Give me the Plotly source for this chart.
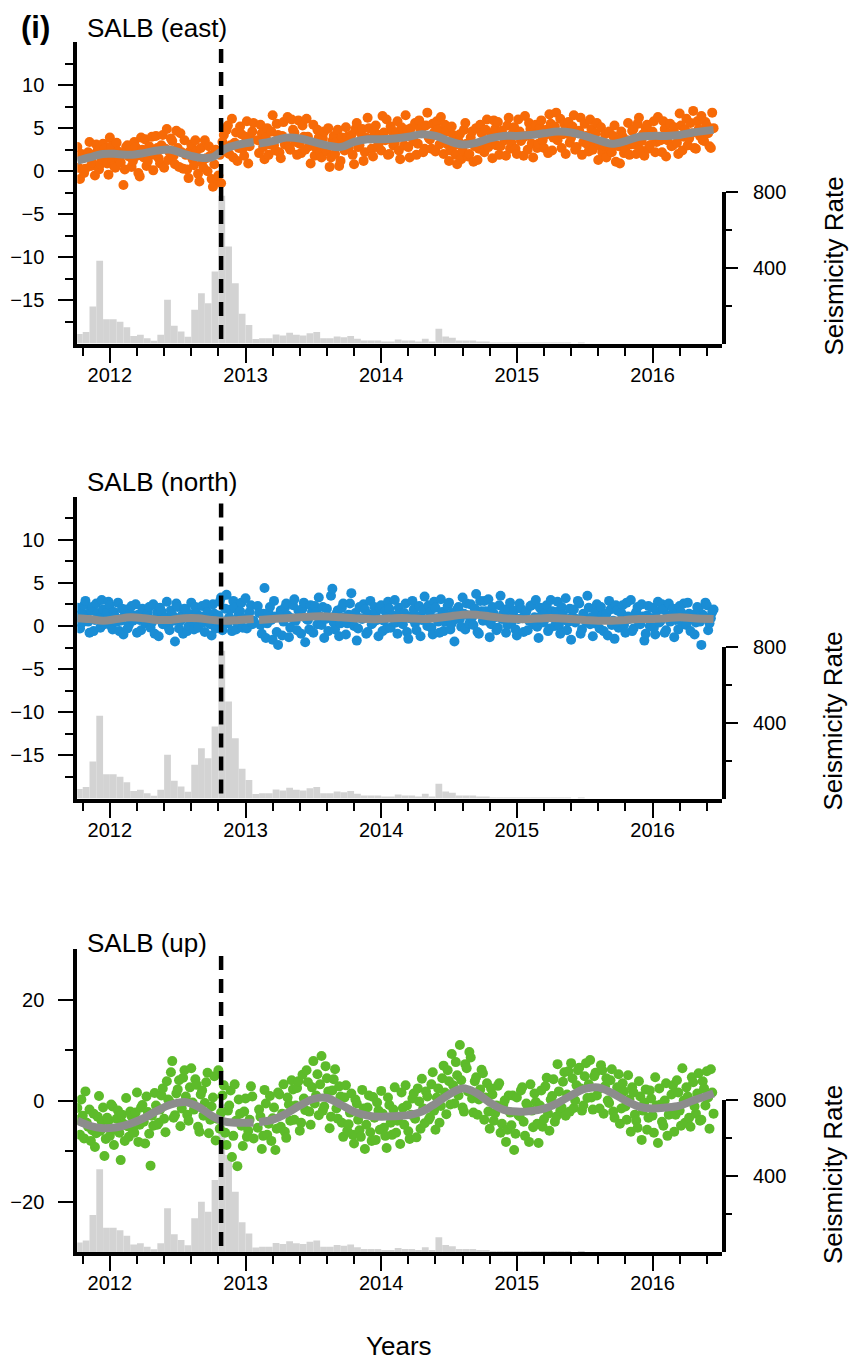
import plotly.graph_objects as go

# ---------------------------------------------------------------------------
# Data
# ---------------------------------------------------------------------------
# GPS displacement samples (mm), one value every 0.01 yr starting at 2011.76.
# None marks the short data outage early in 2013.
east = [
    2.8, 0.4, -0.9, 2.0, 1.5, -0.2, 0.3, 1.7, 2.2, 3.4,
    0.6, 1.0, 1.9, -0.5, 3.1, 2.4, 0.2, 0.8, 1.4, 3.2,
    2.6, 1.5, 0.9, -0.4, 3.9, 2.9, 1.2, 0.6, 0.4, 3.3,
    2.3, 1.4, 1.0, 2.0, -1.6, 0.2, 2.8, 3.0, 1.7, 2.4,
    0.5, 1.2, 3.4, 2.8, 1.8, -0.2, -0.6, 3.9, 2.5, 1.6,
    3.7, 0.6, 1.2, 2.9, 2.1, 4.0, 0.1, 1.9, 4.1, 2.7,
    1.5, 0.9, 3.0, 4.2, 0.4, 2.6, 4.9, 1.3, 2.2, 3.8,
    3.5, 1.8, 0.8, 4.7, 2.7, 0.5, 4.4, 2.2, 0.3, 3.6,
    1.9, 0.2, -0.8, 2.3, 3.1, 1.4, 0.7, 3.6, 2.4, -0.3,
    -1.2, 2.7, 1.1, 0.4, 3.6, 1.5, 0.0, 2.9, 1.8, -0.9,
    -1.8, 0.8, 2.5, -1.0, -0.5, 1.9, -1.4, 3.4, 4.2, 2.3,
    4.8, 5.3, 2.0, 3.0, 6.1, 1.6, 3.3, 4.5, 1.2, 2.7,
    5.2, 4.3, 2.6, 1.8, 4.0, 5.8, 0.9, 2.9, 3.7, 4.6,
    5.6, None, None, 3.6, 2.1, 5.4, 4.4, 2.8, 1.4, 3.9,
    5.0, 1.9, 3.1, 4.6, 6.5, 3.0, 2.4, 5.5, 4.2, 2.2,
    1.5, 4.1, 5.7, 3.1, 3.6, 6.3, 2.8, 2.5, 6.0, 4.8,
    4.5, 3.4, 1.9, 5.9, 3.2, 2.1, 5.3, 4.0, 2.5, 6.1,
    4.0, 2.9, 0.9, 3.3, 5.4, 1.8, 2.7, 4.8, 3.9, 2.2,
    1.6, 3.8, 4.6, 2.6, 2.3, 5.0, 0.5, 1.6, 3.5, 4.1,
    2.0, 3.4, 4.8, 0.6, 1.2, 3.9, 3.3, 2.4, 5.1, 4.0,
    2.6, 3.7, 4.2, 1.9, 0.8, 4.9, 5.6, 2.8, 3.0, 4.4,
    4.9, 1.2, 2.2, 3.9, 6.2, 5.0, 3.8, 2.6, 1.7, 4.6,
    5.3, 2.8, 3.1, 4.2, 2.4, 6.4, 4.5, 3.6, 6.0, 1.9,
    2.0, 5.2, 4.7, 3.0, 3.3, 4.5, 5.8, 2.4, 1.4, 5.1,
    4.1, 3.0, 6.5, 4.8, 2.8, 1.6, 5.0, 3.8, 3.5, 5.6,
    1.9, 3.2, 5.9, 4.9, 4.4, 2.2, 2.6, 5.3, 6.8, 3.9,
    3.7, 2.6, 5.5, 4.5, 2.3, 5.8, 4.8, 3.1, 6.3, 4.0,
    2.0, 5.4, 4.6, 3.1, 1.2, 2.4, 5.2, 4.2, 3.0, 1.9,
    0.8, 3.5, 4.3, 1.4, 2.4, 4.8, 5.6, 3.2, 1.7, 2.0,
    3.9, 4.6, 1.1, 2.9, 5.0, 1.3, 2.6, 5.4, 4.4, 3.1,
    2.2, 4.8, 6.0, 2.8, 3.4, 4.4, 1.5, 5.9, 4.9, 3.0,
    5.7, 1.9, 2.9, 4.7, 4.2, 3.6, 1.8, 5.3, 6.2, 2.6,
    3.3, 4.4, 5.1, 2.6, 2.0, 6.0, 4.6, 3.5, 3.8, 1.8,
    6.4, 4.1, 2.5, 5.6, 4.9, 3.2, 1.6, 4.6, 5.4, 2.7,
    3.2, 5.1, 5.9, 3.6, 2.7, 4.2, 4.8, 2.1, 6.6, 5.5,
    2.4, 3.9, 5.2, 6.8, 3.6, 4.4, 6.1, 2.7, 4.3, 5.5,
    2.0, 4.9, 5.7, 3.3, 3.9, 5.2, 6.5, 2.5, 2.8, 4.4,
    4.7, 6.2, 1.9, 3.4, 5.5, 4.1, 3.1, 2.3, 6.0, 4.9,
    2.5, 3.5, 4.4, 5.6, 1.3, 3.0, 5.1, 2.2, 3.0, 4.3,
    1.6, 3.0, 4.6, 2.5, 2.2, 4.1, 5.3, 1.1, 3.4, 2.9,
    0.9, 4.6, 4.0, 2.1, 2.7, 3.6, 5.6, 1.9, 3.1, 4.7,
    4.9, 3.1, 2.0, 5.5, 6.2, 2.5, 3.5, 4.3, 1.8, 5.0,
    5.4, 2.6, 3.0, 4.1, 4.6, 5.8, 2.2, 3.4, 6.3, 4.0,
    3.6, 2.2, 5.8, 4.9, 1.7, 3.6, 4.4, 5.5, 2.9, 3.0,
    5.1, 4.3, 3.3, 2.0, 6.7, 5.3, 2.4, 4.0, 4.8, 6.1,
    3.0, 3.8, 5.6, 4.4, 7.0, 2.7, 2.6, 5.8, 4.9, 4.1,
    6.4, 3.6, 3.5, 5.7, 5.3, 4.4, 2.9, 2.7, 6.8, 5.0,
]

north = [
    2.1, 1.2, -0.3, 0.3, 1.4, 2.4, 2.9, 1.0, 0.5, -0.8,
    1.8, 2.2, -0.6, 0.7, 2.6, 1.5, 0.9, -0.2, 3.0, 1.9,
    0.2, 1.1, 1.6, 2.8, 2.4, 0.0, -0.4, 1.6, 1.1, 0.5,
    2.7, -0.6, 0.6, 2.0, -1.0, 1.3, 1.9, -0.3, 0.1, 1.4,
    2.3, 0.6, 1.2, 2.5, -0.8, 1.3, 0.7, -0.5, 2.0, 1.7,
    0.3, 0.9, 1.5, 2.2, -0.2, 0.4, 2.5, -0.9, 0.9, 1.6,
    -1.2, 2.1, 1.7, 0.2, 0.4, 1.0, 2.8, -0.1, -0.5, 1.8,
    1.3, 0.6, -1.8, 2.6, 2.2, -0.3, 0.6, 1.2, -0.9, 2.0,
    1.9, -0.6, 0.0, 1.3, 2.7, 0.5, -0.4, 2.2, 1.4, -0.2,
    0.8, 1.1, 2.3, 0.4, -0.7, 2.5, 1.6, 0.9, 0.2, -1.1,
    2.5, 1.4, -0.3, 0.6, 1.2, 2.8, 3.3, -0.5, 0.5, 2.0,
    3.6, 0.3, 1.0, 1.9, -0.6, 2.9, 2.1, -0.4, 0.4, 1.3,
    1.7, 2.7, -0.2, 0.9, 3.2, -0.3, 0.8, 1.6, 2.4, 0.2,
    0.6, None, None, 2.3, 1.5, 0.1, -0.9, 1.4, 4.4, -1.4,
    0.3, 1.5, 2.2, 0.7, -1.6, 2.9, 1.1, -0.7, -2.2, 1.0,
    1.8, -1.1, 0.5, 2.1, 2.6, 1.2, -1.3, -0.2, 0.9, 2.4,
    3.1, 0.6, -0.5, 1.8, 1.4, -0.9, 2.0, 2.7, -1.9, 0.8,
    0.7, -0.4, 2.4, 1.6, -0.8, 2.3, 1.6, 0.2, 3.3, 1.1,
    0.1, 2.2, -1.4, 0.8, 2.0, -0.6, 1.0, 3.5, 4.3, 0.4,
    -0.4, 1.4, 1.8, -1.2, 0.3, 2.1, 2.6, 1.0, -1.0, 0.3,
    1.3, 2.6, 3.8, 0.6, 0.0, 1.5, -1.7, -0.3, 2.2, 0.9,
    0.8, 2.5, 1.9, -0.9, -0.7, 1.3, 2.9, 0.2, 0.4, 2.2,
    1.5, 0.7, -1.2, 2.0, 2.4, -0.6, 0.6, 1.7, -0.3, 2.8,
    2.0, -0.2, 0.9, 1.2, 3.0, 0.4, -0.9, 2.1, 1.4, 0.6,
    0.2, 1.5, 2.6, -0.7, -1.5, 0.9, 1.1, 2.9, 1.9, 0.3,
    -0.5, 1.1, 2.3, -1.2, 0.7, 1.8, 3.4, 0.7, 0.0, 2.4,
    1.6, -0.2, -1.0, 2.8, 2.1, 0.9, 0.5, -0.8, 3.1, 1.6,
    -0.6, 0.5, 1.3, 2.3, 2.7, -0.4, 0.3, 1.5, -1.8, 0.8,
    1.9, 2.2, 0.8, -0.1, 3.3, 1.4, -0.4, 2.6, 1.2, 0.3,
    2.5, 1.0, 0.1, 2.0, 3.7, -0.7, -0.9, 2.9, 1.7, 0.6,
    2.9, 1.7, 0.6, 3.1, -1.3, 0.2, 2.2, 1.4, 1.0, -0.5,
    -0.2, 2.4, 3.5, 0.8, 1.4, 1.9, -0.8, 0.1, 2.0, 2.7,
    0.4, 1.3, 1.8, -0.4, -1.1, 0.8, 2.6, 2.0, 0.9, -0.7,
    1.5, 1.7, -0.5, 0.6, 2.3, 2.4, 0.2, 1.0, 3.0, -0.1,
    -1.4, 2.1, 1.2, 0.4, 0.6, 1.5, 2.4, -0.6, -0.3, 3.0,
    1.7, 0.9, 0.0, 1.6, 2.8, 0.0, -0.9, 2.2, 1.3, 0.7,
    3.2, -0.5, 0.5, 2.0, -1.6, 1.1, 1.9, 0.4, 0.8, 2.9,
    2.6, -0.9, -0.4, 1.4, 1.0, 0.5, 3.5, 2.1, 0.2, 1.0,
    -1.2, 0.3, 1.6, 2.5, 0.7, -0.3, 2.2, 1.2, -0.6, 0.8,
    1.4, -1.1, 2.9, 1.9, 0.1, 0.6, -1.5, 2.4, 1.8, -0.2,
    0.5, 1.5, 2.4, 0.1, -0.8, 2.7, 1.1, 0.8, 3.0, -0.6,
    -0.3, 1.3, 1.6, 2.2, 0.4, 0.2, 2.5, 1.1, -1.7, -0.9,
    1.2, 2.3, 0.0, 0.9, 2.1, -0.2, -1.0, 1.7, 2.8, 0.4,
    0.6, 2.5, 1.9, -0.8, -0.5, 1.2, 2.6, 0.5, 0.9, 2.0,
    -1.3, 0.7, 1.5, -0.4, 2.3, 1.6, 0.2, 2.6, 1.0, 0.1,
    2.7, 1.4, -0.6, 0.8, 1.3, -1.0, 0.4, 2.2, 2.0, 0.5,
    -2.2, 1.3, 1.1, 2.7, 2.4, -0.5, 0.3, 0.9, 1.6, 1.9,
]

up = [
    -1.5, -3.8, -6.8, 0.2, -3.0, -7.5, 1.8, -4.4, -5.2, -1.8,
    -8.0, -5.9, -2.6, -9.2, -6.5, -3.2, 0.9, -6.0, -4.1, -1.4,
    -11.0, -7.6, -3.4, -4.0, -7.0, -0.8, -1.2, -8.8, -5.8, -3.6,
    -2.0, -6.4, -11.8, -2.8, -4.6, -8.0, 0.5, -5.1, -7.2, -2.2,
    -3.1, -6.0, -6.4, -2.4, 1.6, -8.2, -4.8, -1.4, -0.9, -4.2,
    -8.5, 0.8, -2.3, -6.6, -12.9, -3.0, -5.0, 1.5, -1.0, -4.8,
    -4.4, -1.8, 1.0, 2.4, -3.6, -6.3, 3.8, 0.2, -0.2, 5.6,
    7.8, -3.4, -2.9, 1.4, 2.2, 4.0, -5.1, -1.6, 4.5, 6.0,
    0.8, -2.8, -4.0, 2.6, 6.4, -0.4, -1.8, 4.2, 3.1, -5.2,
    -6.2, 1.2, 2.0, -3.0, -0.5, 3.6, 5.5, -6.5, -3.8, -1.2,
    0.6, 4.8, -7.9, -3.6, 6.0, -5.6, -2.4, 1.0, 3.0, -6.4,
    -8.8, -2.0, -1.0, 2.0, -11.2, -7.0, 3.2, -4.0, -13.0, 0.2,
    -2.6, -5.0, -9.0, -2.2, 0.4, -7.2, -6.0, -3.8, 2.8, 0.8,
    -7.5, None, None, -5.4, -1.8, -3.2, -9.6, -7.0, 2.1, -0.6,
    -6.8, -4.6, 0.9, -8.0, -3.5, -1.4, -9.8, -5.6, 1.6, 1.2,
    -5.2, -2.6, 3.2, -6.2, -7.4, 0.6, -0.8, -4.0, 4.0, 2.2,
    -3.8, -1.0, 2.5, 3.8, -6.0, -4.4, 5.1, 0.4, -1.9, 6.0,
    3.6, -2.2, -4.8, 2.6, 7.8, -0.6, 1.0, 5.2, -2.9, 3.2,
    8.8, -2.0, -1.2, 6.8, 4.4, 1.8, -5.5, -3.2, 2.0, 4.2,
    6.2, -1.6, -3.6, 2.8, 0.8, -4.4, -7.2, 0.6, 3.0, -6.0,
    -4.7, -2.4, 1.4, -6.8, -8.5, 0.2, -0.6, -3.8, -5.9, -7.2,
    2.1, -1.6, -9.6, -4.8, -1.4, 1.0, -6.3, -8.0, 0.7, -3.4,
    -7.8, -0.4, -2.0, -5.8, 1.9, -2.6, -5.4, -7.0, -9.4, 0.6,
    -0.9, -4.4, -6.8, -1.8, 2.6, -6.4, -4.0, -3.2, -8.6, 1.6,
    -1.5, -4.8, 3.0, -1.0, -6.1, -7.6, -2.8, 0.4, 1.4, -3.6,
    -7.3, 2.4, -0.2, -5.6, 4.3, -1.6, -4.5, 1.8, 0.8, -3.8,
    -3.3, 3.2, 5.6, -2.0, -5.8, 0.6, 2.4, -4.4, -1.1, 4.4,
    6.9, 1.6, -2.7, 6.0, 3.8, -0.8, 9.2, 3.0, -0.6, 7.6,
    5.0, 1.0, 11.0, 4.0, -1.4, -2.2, 7.2, 6.4, 1.8, 9.6,
    8.5, 0.4, -2.4, 3.8, 4.6, -2.8, 0.2, 2.2, 6.1, 5.4,
    -3.8, 0.6, 3.4, -2.2, -5.6, 2.4, 1.2, -4.0, -2.5, -1.0,
    2.9, 3.4, -6.4, -4.6, -0.8, 0.0, -8.2, -5.8, 1.0, -2.4,
    -4.9, 1.0, -9.8, -6.6, 0.6, -2.8, -3.1, 2.0, 2.6, -4.2,
    -7.0, -0.6, -1.2, -8.2, 3.2, -2.0, -5.3, 1.4, -0.3, -4.6,
    -8.4, -1.0, 2.0, -5.2, -3.7, 2.8, 4.5, -2.6, -6.0, 0.2,
    0.9, 4.2, -4.2, -3.2, 7.2, 1.8, -2.1, -1.4, 3.7, 5.6,
    -3.0, 1.2, 5.8, -2.2, 7.4, 4.4, -1.5, 0.0, 3.0, 6.0,
    6.5, 2.4, -2.0, -1.0, 4.8, 7.4, 0.5, 3.2, 8.0, 0.6,
    -1.8, 4.8, 5.5, 1.0, 2.2, -1.6, 7.0, 6.0, -2.6, 2.8,
    4.4, 0.0, -0.5, 4.0, 6.2, -2.2, -3.4, 1.6, 2.6, 5.2,
    -4.6, -1.6, 3.4, 1.8, -1.2, -3.8, 5.0, 0.2, -6.2, 2.6,
    1.6, -2.8, -4.0, -5.4, 3.8, 0.8, -7.8, -2.0, -0.4, 2.2,
    -5.8, -3.4, 2.0, 0.4, -3.0, -6.4, 4.6, -1.0, -8.4, 2.4,
    -0.8, -4.2, -5.0, 0.0, 3.4, -7.0, -2.8, -2.2, 1.2, 3.0,
    -6.2, -2.8, 4.0, 1.6, -2.0, -5.0, 6.4, 0.0, -4.4, 2.6,
    0.8, -3.4, -5.2, 4.6, 3.6, -1.2, -2.6, 1.4, 5.4, -4.0,
    -3.8, 3.8, 2.4, -1.0, 5.8, 0.6, -5.6, 6.2, 1.6, -2.6,
]

# Smoothed displacement (mm); None splits the curve at the data outage.
trend_t = [
    2011.76, 2011.85, 2011.95, 2012.05, 2012.15, 2012.25, 2012.35, 2012.45,
    2012.55, 2012.65, 2012.75, 2012.85, 2012.95, 2013.06, 2013.08,
    2013.10, 2013.20, 2013.30, 2013.40, 2013.50, 2013.60, 2013.70, 2013.80,
    2013.90, 2014.00, 2014.10, 2014.20, 2014.30, 2014.40, 2014.50, 2014.60,
    2014.70, 2014.80, 2014.90, 2015.00, 2015.10, 2015.20, 2015.30, 2015.40,
    2015.50, 2015.60, 2015.70, 2015.80, 2015.90, 2016.00, 2016.10, 2016.20,
    2016.30, 2016.45,
]
east_trend = [
    1.2, 1.6, 2.0, 2.0, 1.9, 2.1, 2.4, 2.5, 2.0, 1.6, 1.6, 2.6, 3.1, 3.4, None,
    3.2, 3.5, 3.9, 3.8, 3.4, 3.0, 2.8, 3.4, 3.7, 3.7, 3.8, 4.0, 4.3, 4.1, 3.5,
    3.1, 3.3, 3.8, 4.1, 4.1, 4.2, 4.4, 4.6, 4.5, 4.1, 3.6, 3.2, 3.5, 4.0, 4.1,
    4.1, 4.2, 4.5, 4.8,
]
north_trend = [
    0.9, 0.8, 0.6, 0.8, 1.0, 0.9, 0.7, 0.7, 0.9, 0.9, 0.7, 0.6, 0.7, 0.8, None,
    0.7, 0.8, 0.9, 1.0, 1.1, 1.1, 1.0, 0.9, 0.8, 0.8, 0.9, 0.9, 0.8, 0.9, 1.1,
    1.3, 1.3, 1.1, 0.9, 0.8, 0.8, 0.9, 0.9, 0.8, 0.7, 0.6, 0.6, 0.7, 0.8, 0.8,
    0.9, 1.0, 0.9, 0.8,
]
up_trend = [
    -4.0, -5.0, -5.5, -5.3, -4.6, -3.5, -2.0, -0.8, -0.3, -1.2, -3.0, -4.2, -4.4,
    -4.4, None,
    -4.3, -3.8, -2.6, -1.0, 0.3, 0.5, -0.8, -2.2, -3.0, -3.2, -3.1, -2.9, -2.2,
    -0.6, 1.2, 2.4, 1.5, -0.4, -1.8, -2.2, -2.1, -1.6, -0.5, 1.0, 2.3, 2.6, 1.5,
    0.0, -1.2, -1.6, -1.4, -1.0, 0.0, 1.4,
]

# Seismicity rate per 0.05-yr bin, bins starting at 2011.75.
seis_rate = [
    50, 60, 195, 435, 128, 128, 115, 86, 40, 46,
    27, 15, 46, 230, 93, 63, 35, 177, 265, 212,
    379, 777, 510, 317, 157, 98, 24, 28, 28, 48,
    42, 56, 46, 42, 54, 60, 28, 28, 37, 33,
    39, 25, 16, 16, 16, 10, 10, 21, 16, 16,
    10, 25, 10, 77, 37, 30, 16, 16, 16, 10,
    7, 5, 4, 4, 3, 3, 2, 2, 2, 1,
    1, 1, 1, 0, 1,
]
seis_ticks = [400, 800]

event_time = 2012.82
year_ticks = [2012, 2013, 2014, 2015, 2016]

# ---------------------------------------------------------------------------
# Figure
# ---------------------------------------------------------------------------
W, H = 853, 1362
FONT = "Liberation Sans, Arial, Helvetica, sans-serif"


def fx(px):
    return px / W


def fy(py):
    return 1 - py / H


t_gps = [round(2011.76 + 0.01 * j, 2) for j in range(len(east))]
seis_t = [round(2011.775 + 0.05 * k, 3) for k in range(len(seis_rate))]

X_LEFT, X_RIGHT = 77.3, 721.7
SEIS_MAX = 800
SEIS_SPAN = 152  # pixels covered by 0..800 on the rate axis

panels = [
    dict(label="SALB (east)", vals=east, trend=east_trend, color="#F76A07",
         top=42, bottom=343.5, yr=[-20, 15],
         major=[-15, -10, -5, 0, 5, 10],
         minor=[-17.5, -12.5, -7.5, -2.5, 2.5, 7.5, 12.5], title_y=28),
    dict(label="SALB (north)", vals=north, trend=north_trend, color="#1A8DD5",
         top=496.5, bottom=798.5, yr=[-20, 15],
         major=[-15, -10, -5, 0, 5, 10],
         minor=[-17.5, -12.5, -7.5, -2.5, 2.5, 7.5, 12.5], title_y=482),
    dict(label="SALB (up)", vals=up, trend=up_trend, color="#5DBB2A",
         top=949, bottom=1252, yr=[-30, 30],
         major=[-20, 0, 20], minor=[-10, 10], title_y=943),
]

fig = go.Figure()
layout = dict(
    width=W, height=H, autosize=False,
    margin=dict(l=0, r=0, t=0, b=0),
    paper_bgcolor="white", plot_bgcolor="rgba(0,0,0,0)",
    showlegend=False, font=dict(family=FONT, size=20, color="black"),
    barmode="overlay",
)
annotations = []
shapes = []

for p, cfg in enumerate(panels):
    xid = "x" if p == 0 else f"x{p + 1}"
    sid = "y" if p == 0 else f"y{2 * p + 1}"
    gid = f"y{2 * p + 2}"
    xname = "xaxis" if p == 0 else f"xaxis{p + 1}"
    sname = "yaxis" if p == 0 else f"yaxis{2 * p + 1}"
    gname = f"yaxis{2 * p + 2}"

    # seismicity histogram (drawn first, beneath the GPS points)
    fig.add_trace(go.Bar(
        x=seis_t, y=seis_rate, width=0.05,
        marker=dict(color="#D3D3D3", line=dict(width=0)),
        xaxis=xid, yaxis=sid, hoverinfo="skip",
    ))
    # GPS samples
    fig.add_trace(go.Scatter(
        x=t_gps, y=cfg["vals"], mode="markers",
        marker=dict(size=10, color=cfg["color"], line=dict(width=0)),
        xaxis=xid, yaxis=gid,
    ))
    # smoothed curve
    fig.add_trace(go.Scatter(
        x=trend_t, y=cfg["trend"], mode="lines", connectgaps=False,
        line=dict(color="#8C8C8C", width=8, shape="spline", smoothing=1.0),
        xaxis=xid, yaxis=gid,
    ))

    common = dict(showline=True, linewidth=4, linecolor="black", ticks="outside",
                  tickcolor="black", tickwidth=2, showgrid=False, zeroline=False,
                  tickfont=dict(family=FONT, size=20, color="black"),
                  fixedrange=True)

    layout[xname] = dict(
        common, domain=[fx(X_LEFT), fx(X_RIGHT)], range=[2011.76, 2016.51],
        anchor=gid, tickmode="array", tickvals=year_ticks,
        ticktext=[str(y) for y in year_ticks], ticklen=15, ticklabelstandoff=-5,
        minor=dict(dtick=0.2, tick0=2012, ticks="outside", ticklen=8,
                   tickwidth=2, tickcolor="black", showgrid=False),
    )
    layout[gname] = dict(
        common, domain=[fy(cfg["bottom"]), fy(cfg["top"])], range=cfg["yr"],
        anchor=xid, side="left", tickmode="array", tickvals=cfg["major"],
        ticklen=15, ticklabelstandoff=10,
        minor=dict(tickmode="array", tickvals=cfg["minor"], ticks="outside",
                   ticklen=8, tickwidth=2, tickcolor="black", showgrid=False),
    )
    layout[sname] = dict(
        common, domain=[fy(cfg["bottom"]), fy(cfg["bottom"] - SEIS_SPAN)],
        range=[0, SEIS_MAX], anchor=xid, side="right", tickmode="array",
        tickvals=seis_ticks, ticklen=12, showticklabels=False,
        minor=dict(tickmode="array", tickvals=[200, 600], ticks="outside",
                   ticklen=6, tickwidth=2, tickcolor="black", showgrid=False),
    )

    # rate-axis tick labels, placed in the axis's own coordinates
    for v in seis_ticks:
        annotations.append(dict(
            text=str(v), xref="paper", yref=sid, x=fx(751), y=v,
            xanchor="left", yanchor="middle", showarrow=False,
            font=dict(family=FONT, size=20, color="black"),
        ))

    # vertical dashed marker at the event time
    shapes.append(dict(
        type="line", xref=xid, yref=f"{gid} domain",
        x0=event_time, x1=event_time, y0=1 - 7 / (cfg["bottom"] - cfg["top"]), y1=0,
        line=dict(color="black", width=4.5, dash="14px,9px"), layer="above",
    ))

    annotations.append(dict(
        text=cfg["label"], xref="paper", yref="paper", x=fx(85), y=fy(cfg["title_y"]),
        xanchor="left", yanchor="middle", showarrow=False,
        font=dict(family=FONT, size=26, color="black"),
    ))
    annotations.append(dict(
        text="Seismicity Rate", xref="paper", yref="paper", textangle=-90,
        x=fx(833), y=fy(cfg["bottom"] - SEIS_SPAN / 2 - 1),
        xanchor="center", yanchor="middle", showarrow=False,
        font=dict(family=FONT, size=26, color="black"),
    ))

annotations.append(dict(
    text="<b>(i)</b>", xref="paper", yref="paper", x=fx(19), y=fy(27),
    xanchor="left", yanchor="middle", showarrow=False,
    font=dict(family=FONT, size=31, color="black"),
))
annotations.append(dict(
    text="Years", xref="paper", yref="paper", x=fx(399), y=fy(1346),
    xanchor="center", yanchor="middle", showarrow=False,
    font=dict(family=FONT, size=26, color="black"),
))

layout["annotations"] = annotations
layout["shapes"] = shapes
fig.update_layout(**layout)

fig.write_html("out.html", config=dict(displayModeBar=False))
